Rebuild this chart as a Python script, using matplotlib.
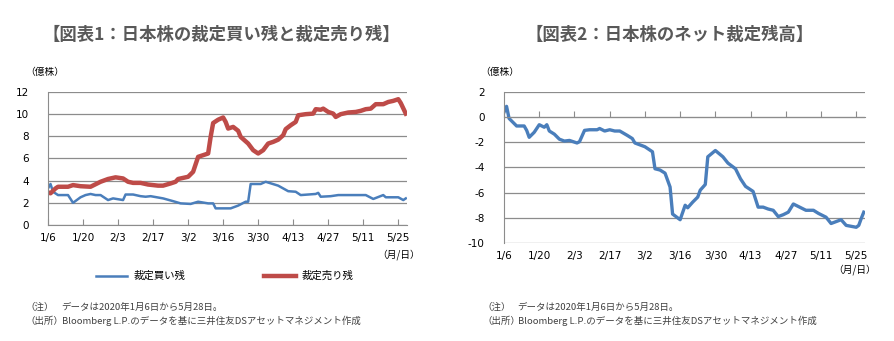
import matplotlib
matplotlib.use("Agg")
from matplotlib import pyplot as plt
from matplotlib import dates as mdates
import pandas as pd

plt.rcParams['font.family'] = ['Noto Sans CJK JP', 'DejaVu Sans']
plt.rcParams['axes.unicode_minus'] = False

# 図表1：裁定売り残（億株）
sell_dates = ["01-06", "01-07", "01-09", "01-10", "01-14", "01-16", "01-19", "01-23", "01-27",
              "01-30", "02-02", "02-05", "02-07", "02-09", "02-12", "02-15", "02-19", "02-21",
              "02-24", "02-26", "02-27", "03-01", "03-02", "03-04", "03-06", "03-08", "03-10",
              "03-11", "03-12", "03-14", "03-16", "03-17", "03-18", "03-20", "03-22", "03-23",
              "03-26", "03-28", "03-30", "04-01", "04-03", "04-05", "04-07", "04-09", "04-10",
              "04-12", "04-14", "04-15", "04-18", "04-21", "04-22", "04-24", "04-25", "04-27",
              "04-29", "04-30", "05-02", "05-05", "05-08", "05-10", "05-12", "05-14", "05-16",
              "05-19", "05-21", "05-23", "05-25", "05-26", "05-28"]
sell_vals = [2.95, 2.86, 3.3, 3.45, 3.45, 3.6, 3.5, 3.45, 3.9,
             4.15, 4.3, 4.2, 3.9, 3.8, 3.8, 3.65, 3.55, 3.55,
             3.75, 3.9, 4.15, 4.3, 4.35, 4.8, 6.15, 6.3, 6.45,
             7.95, 9.2, 9.5, 9.7, 9.3, 8.7, 8.85, 8.5, 7.95,
             7.35, 6.75, 6.45, 6.75, 7.35, 7.5, 7.7, 8.1, 8.65,
             9.0, 9.3, 9.9, 10.0, 10.05, 10.45, 10.4, 10.5, 10.2,
             10.05, 9.75, 10.0, 10.15, 10.2, 10.3, 10.45, 10.5, 10.9,
             10.9, 11.1, 11.2, 11.35, 11.0, 10.05]

# 図表1：裁定買い残（億株）
buy_dates = ["01-06", "01-07", "01-08", "01-10", "01-14", "01-16", "01-19", "01-21", "01-23",
             "01-25", "01-27", "01-30", "02-01", "02-05", "02-06", "02-09", "02-12", "02-14",
             "02-16", "02-21", "02-25", "02-28", "03-03", "03-06", "03-10", "03-12", "03-13",
             "03-19", "03-22", "03-25", "03-26", "03-27", "03-31", "04-02", "04-07", "04-09",
             "04-11", "04-14", "04-16", "04-22", "04-23", "04-24", "04-28", "05-01", "05-12",
             "05-15", "05-19", "05-20", "05-25", "05-27", "05-28"]
buy_vals = [3.3, 3.7, 3.0, 2.7, 2.7, 2.0, 2.5, 2.7, 2.8,
            2.7, 2.7, 2.25, 2.4, 2.25, 2.75, 2.75, 2.6, 2.55,
            2.6, 2.4, 2.15, 1.95, 1.9, 2.1, 1.95, 1.95, 1.5,
            1.5, 1.75, 2.1, 2.1, 3.7, 3.7, 3.9, 3.55, 3.3,
            3.05, 3.0, 2.7, 2.8, 2.9, 2.55, 2.6, 2.7, 2.7,
            2.35, 2.7, 2.5, 2.5, 2.25, 2.4]

# 図表2：ネット裁定残高（億株）
net_dates = ["01-06", "01-07", "01-08", "01-10", "01-11", "01-14", "01-15", "01-16", "01-18",
             "01-20", "01-22", "01-23", "01-24", "01-26", "01-28", "01-30", "02-01", "02-04",
             "02-05", "02-07", "02-09", "02-12", "02-13", "02-15", "02-17", "02-19", "02-21",
             "02-24", "02-26", "02-27", "02-29", "03-02", "03-05", "03-06", "03-08", "03-10",
             "03-12", "03-13", "03-16", "03-18", "03-19", "03-21", "03-23", "03-24", "03-26",
             "03-27", "03-30", "04-02", "04-04", "04-07", "04-09", "04-11", "04-14", "04-16",
             "04-18", "04-20", "04-22", "04-24", "04-26", "04-28", "04-30", "05-03", "05-05",
             "05-08", "05-10", "05-13", "05-15", "05-19", "05-21", "05-25", "05-26", "05-27",
             "05-28"]
net_vals = [0.4, 0.86, -0.1, -0.5, -0.7, -0.7, -1.05, -1.6, -1.2,
            -0.6, -0.8, -0.6, -1.1, -1.35, -1.75, -1.9, -1.85, -2.05,
            -1.95, -1.05, -1.0, -1.0, -0.9, -1.1, -1.0, -1.1, -1.1,
            -1.45, -1.7, -2.05, -2.2, -2.35, -2.75, -4.1, -4.2, -4.45,
            -5.55, -7.7, -8.15, -7.0, -7.2, -6.75, -6.35, -5.8, -5.35,
            -3.15, -2.65, -3.15, -3.65, -4.1, -4.9, -5.5, -5.9, -7.15,
            -7.15, -7.3, -7.4, -7.9, -7.75, -7.55, -6.9, -7.2, -7.4,
            -7.4, -7.65, -7.95, -8.45, -8.15, -8.6, -8.75, -8.6, -8.05,
            -7.55]

tick_dates = ["01-06", "01-20", "02-03", "02-17", "03-02", "03-16", "03-30",
              "04-13", "04-27", "05-11", "05-25"]


def to_dt(lst):
    return pd.to_datetime(["2020-" + d for d in lst])


blue = "#4a7ebb"
red = "#be4b48"
grid_c = "#8c8c8c"
text_c = "#404040"

fig = plt.figure(figsize=(8.94, 3.41), dpi=100)
fig.patch.set_facecolor("white")

ax1 = fig.add_axes([0.0537, 0.3402, 0.4016, 0.39])
ax2 = fig.add_axes([0.5638, 0.2874, 0.4038, 0.4428])

x_lo = pd.Timestamp("2020-01-06")
x_hi = pd.Timestamp("2020-05-28 12:00")


def style(ax):
    ax.set_xlim(x_lo, x_hi)
    ax.set_xticks(to_dt(tick_dates))
    ax.set_xticklabels([f"{d.month}/{d.day}" for d in to_dt(tick_dates)])
    ax.tick_params(axis="x", direction="in", length=4, color=grid_c, labelsize=7.5,
                   labelcolor="#000000", pad=6)
    ax.tick_params(axis="y", length=0, labelsize=7.5, labelcolor="#000000", pad=14)
    for lab in ax.get_xticklabels() + ax.get_yticklabels():
        lab.set_family("DejaVu Sans")
    for s in ["top", "right"]:
        ax.spines[s].set_visible(False)
    ax.spines["left"].set_color(grid_c)
    ax.spines["bottom"].set_color(grid_c)
    ax.grid(axis="y", color=grid_c, linewidth=0.9)
    ax.set_axisbelow(True)


# 図表1
ax1.plot(to_dt(buy_dates), buy_vals, color=blue, linewidth=1.8, label="裁定買い残")
ax1.plot(to_dt(sell_dates), sell_vals, color=red, linewidth=3.2, label="裁定売り残")
ax1.set_ylim(0, 12)
ax1.set_yticks(range(0, 13, 2))
style(ax1)
ax1.legend(ncol=2, loc="upper left", bbox_to_anchor=(0.107, -0.275), frameon=False,
           fontsize=7.5, handlelength=3.0, columnspacing=7.6, handletextpad=0.6)

# 図表2
ax2.plot(to_dt(net_dates), net_vals, color=blue, linewidth=2.4)
ax2.set_ylim(-10, 2)
ax2.set_yticks(range(-10, 3, 2))
style(ax2)
ax2.spines["bottom"].set_position(("data", 0))
ax2.tick_params(axis="x", labelbottom=False)
for d in to_dt(tick_dates):
    ax2.text(d, -10.6, f"{d.month}/{d.day}", ha="center", va="top", fontsize=7.5,
             family="DejaVu Sans")

# タイトル
fig.text(0.248, 0.897, "【図表1：日本株の裁定買い残と裁定売り残】", ha="center", va="center",
         fontsize=12.5, fontweight="bold", color="#595959")
fig.text(0.749, 0.897, "【図表2：日本株のネット裁定残高】", ha="center", va="center",
         fontsize=12.5, fontweight="bold", color="#595959")

# 単位
fig.text(0.028, 0.79, "（億株）", ha="left", va="center", fontsize=7)
fig.text(0.537, 0.79, "（億株）", ha="left", va="center", fontsize=7)
fig.text(0.47, 0.252, "（月/日）", ha="right", va="center", fontsize=7)
fig.text(0.98, 0.208, "（月/日）", ha="right", va="center", fontsize=7)

# 注記
for x0, x1 in [(0.029, 0.069), (0.54, 0.579)]:
    fig.text(x0, 0.1, "（注）", ha="left", va="center", fontsize=6.8, color=text_c)
    fig.text(x1, 0.1, "データは2020年1月6日から5月28日。", ha="left", va="center",
             fontsize=6.8, color=text_c)
    fig.text(x0, 0.058, "（出所）", ha="left", va="center", fontsize=6.8, color=text_c)
    fig.text(x1, 0.058, "Bloomberg L.P.のデータを基に三井住友DSアセットマネジメント作成",
             ha="left", va="center", fontsize=6.8, color=text_c)

fig.savefig("out.png", dpi=100, facecolor="white")
